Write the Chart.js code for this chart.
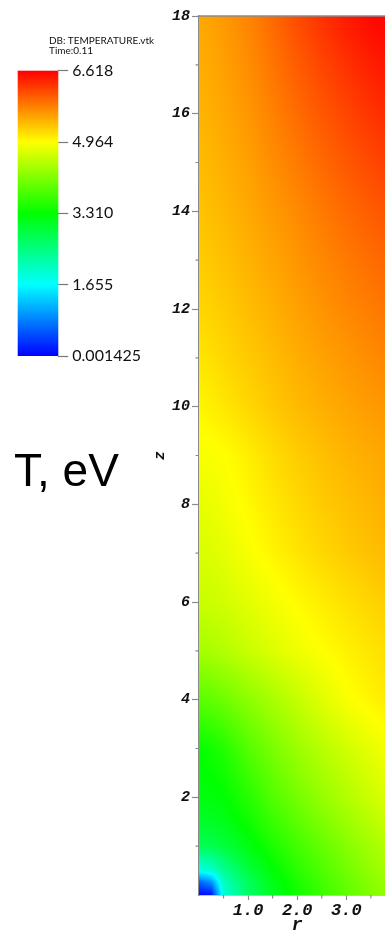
<!DOCTYPE html>
<html>
<head>
<meta charset="utf-8">
<title>T, eV</title>
<script src="https://cdn.jsdelivr.net/npm/chart.js@4.4.1/dist/chart.umd.min.js"></script>
<style>
  html, body { margin: 0; padding: 0; background: #fff; width: 385px; height: 931px; overflow: hidden; }
  #wrap { position: relative; width: 385px; height: 931px; overflow: hidden; }
  #field { position: absolute; left: 0; top: 0; }
  #bar { position: absolute; left: 0; top: 0; }
  .db { position: absolute; left: 49px; top: 35px; font: 10px Lato, sans-serif; line-height: 10px; color: #111; white-space: nowrap; }
  .unit { position: absolute; left: 14px; top: 447px; font: 46px "Liberation Sans", Arial, sans-serif; line-height: 46px; color: #000; white-space: nowrap; }
</style>
</head>
<body>
<div id="wrap">
  <canvas id="field" width="400" height="931"></canvas>
  <canvas id="bar" width="160" height="380"></canvas>
  <div class="db">DB: TEMPERATURE.vtk<br>Time:0.11</div>
  <div class="unit">T, eV</div>
</div>
<script>
// Mesh node coordinates (r across, z up)
const rNodes = [0, 0.25, 0.5, 1, 1.5, 2, 2.5, 3, 3.5, 4];
const zNodes = [0, 0.25, 0.5, 1, 1.5, 2, 3, 4, 5, 6, 7, 8, 9, 10, 11, 12, 13, 14, 15, 16, 17, 18];

// Nodal temperature, eV — one row per zNodes entry, one column per rNodes entry
const temperature = [
  [0.05, 0.10, 1.90, 2.65, 3.10, 3.42, 3.68, 3.92, 4.14, 4.33], // z = 0
  [0.60, 0.90, 2.05, 2.72, 3.16, 3.47, 3.73, 3.97, 4.19, 4.38], // z = 0.25
  [1.75, 1.95, 2.35, 2.90, 3.28, 3.57, 3.82, 4.05, 4.26, 4.44], // z = 0.5
  [2.75, 2.80, 2.92, 3.20, 3.48, 3.74, 3.96, 4.17, 4.37, 4.54], // z = 1
  [3.05, 3.08, 3.15, 3.40, 3.67, 3.91, 4.12, 4.32, 4.50, 4.66], // z = 1.5
  [3.22, 3.25, 3.30, 3.55, 3.84, 4.07, 4.28, 4.46, 4.63, 4.78], // z = 2
  [3.33, 3.42, 3.53, 3.85, 4.10, 4.32, 4.50, 4.66, 4.81, 4.94], // z = 3
  [3.89, 3.94, 4.02, 4.22, 4.40, 4.58, 4.76, 4.93, 5.03, 5.12], // z = 4
  [4.38, 4.42, 4.47, 4.61, 4.74, 4.86, 4.96, 5.05, 5.13, 5.20], // z = 5
  [4.60, 4.63, 4.67, 4.78, 4.89, 4.99, 5.08, 5.16, 5.24, 5.31], // z = 6
  [4.71, 4.74, 4.79, 4.92, 5.03, 5.13, 5.22, 5.30, 5.37, 5.43], // z = 7
  [4.80, 4.84, 4.89, 5.00, 5.11, 5.21, 5.30, 5.37, 5.44, 5.50], // z = 8
  [4.91, 4.93, 4.955, 5.07, 5.19, 5.29, 5.37, 5.45, 5.51, 5.57], // z = 9
  [5.03, 5.07, 5.12, 5.22, 5.32, 5.41, 5.48, 5.55, 5.61, 5.66], // z = 10
  [5.13, 5.17, 5.22, 5.31, 5.40, 5.49, 5.57, 5.64, 5.71, 5.77], // z = 11
  [5.22, 5.26, 5.30, 5.39, 5.48, 5.57, 5.66, 5.74, 5.81, 5.88], // z = 12
  [5.29, 5.33, 5.37, 5.46, 5.55, 5.65, 5.74, 5.83, 5.91, 5.98], // z = 13
  [5.35, 5.39, 5.43, 5.52, 5.62, 5.72, 5.83, 5.93, 6.02, 6.10], // z = 14
  [5.40, 5.44, 5.48, 5.58, 5.70, 5.82, 5.94, 6.05, 6.15, 6.23], // z = 15
  [5.45, 5.49, 5.53, 5.64, 5.78, 5.92, 6.05, 6.17, 6.28, 6.37], // z = 16
  [5.49, 5.53, 5.58, 5.70, 5.86, 6.02, 6.17, 6.30, 6.42, 6.50], // z = 17
  [5.53, 5.57, 5.62, 5.76, 5.94, 6.13, 6.30, 6.45, 6.57, 6.61]  // z = 18
];

// Axis ticks
const rTickValues = [0, 0.5, 1, 1.5, 2, 2.5, 3, 3.5, 4];
const rTickLabels = ['', '', '1.0', '', '2.0', '', '3.0', '', ''];
const zTickValues = [0, 1, 2, 3, 4, 5, 6, 7, 8, 9, 10, 11, 12, 13, 14, 15, 16, 17, 18];
const zTickLabels = ['', '', '2', '', '4', '', '6', '', '8', '', '10', '', '12', '', '14', '', '16', '', '18'];

// Colour bar range and labels
const tMin = 0.001425;
const tMax = 6.618;
const colorbarTicks = [0.001425, 1.655, 3.310, 4.964, 6.618];
const colorbarLabels = ['0.001425', '1.655', '3.310', '4.964', '6.618'];

// "hot" colour table: blue -> cyan -> green -> yellow -> red
const hotStops = [[0, 0, 255], [0, 255, 255], [0, 255, 0], [255, 255, 0], [255, 0, 0]];

function hotColor(v) {
  let t = (v - tMin) / (tMax - tMin);
  t = Math.max(0, Math.min(1, t)) * (hotStops.length - 1);
  const i = Math.min(hotStops.length - 2, Math.floor(t));
  const f = t - i;
  const a = hotStops[i], b = hotStops[i + 1];
  return [a[0] + (b[0] - a[0]) * f, a[1] + (b[1] - a[1]) * f, a[2] + (b[2] - a[2]) * f];
}

function locate(nodes, v) {
  if (v <= nodes[0]) return [0, 0];
  const n = nodes.length;
  if (v >= nodes[n - 1]) return [n - 2, 1];
  let i = 0;
  while (i < n - 2 && v > nodes[i + 1]) i++;
  return [i, (v - nodes[i]) / (nodes[i + 1] - nodes[i])];
}

const AXIS_GREY = '#8a8a8a';
const tickFontX = { family: '"Liberation Mono", monospace', size: 17, style: 'italic', weight: 'bold' };
const tickFontY = { family: '"Liberation Mono", monospace', size: 15, style: 'italic', weight: 'bold' };

// Shaded temperature field, placed through the chart's r/z scales
const fieldPlugin = {
  id: 'fieldShading',
  beforeDatasetsDraw(chart) {
    const { ctx, chartArea: a, scales: { x, y } } = chart;
    const x0 = Math.floor(a.left), x1 = Math.ceil(a.right);
    const y0 = Math.floor(a.top), y1 = Math.ceil(a.bottom);
    const w = x1 - x0, h = y1 - y0;
    const off = document.createElement('canvas');
    off.width = w; off.height = h;
    const octx = off.getContext('2d');
    const img = octx.createImageData(w, h);
    const cols = [];
    for (let px = 0; px < w; px++) cols.push(locate(rNodes, x.getValueForPixel(x0 + px + 0.5)));
    for (let py = 0; py < h; py++) {
      const [j, fz] = locate(zNodes, y.getValueForPixel(y0 + py + 0.5));
      const lo = temperature[j], hi = temperature[j + 1];
      for (let px = 0; px < w; px++) {
        const [i, fr] = cols[px];
        const a0 = lo[i] + (lo[i + 1] - lo[i]) * fr;
        const a1 = hi[i] + (hi[i + 1] - hi[i]) * fr;
        const c = hotColor(a0 + (a1 - a0) * fz);
        const k = (py * w + px) * 4;
        img.data[k] = c[0]; img.data[k + 1] = c[1]; img.data[k + 2] = c[2]; img.data[k + 3] = 255;
      }
    }
    octx.putImageData(img, 0, 0);
    ctx.save();
    ctx.beginPath();
    ctx.rect(a.left, a.top, a.right - a.left, a.bottom - a.top);
    ctx.clip();
    ctx.drawImage(off, x0, y0);
    ctx.restore();
  },
  afterDraw(chart) {
    const { ctx, chartArea: a, scales: { x, y } } = chart;
    ctx.save();
    ctx.strokeStyle = AXIS_GREY;
    ctx.lineWidth = 1.5;
    // frame line along the top
    ctx.beginPath();
    ctx.moveTo(a.left, a.top);
    ctx.lineTo(a.right, a.top);
    ctx.stroke();
    // short minor ticks
    ctx.lineWidth = 1.2;
    ctx.beginPath();
    rTickValues.forEach((v, i) => {
      if (rTickLabels[i] || v === x.min || v === x.max) return;
      const px = x.getPixelForValue(v);
      ctx.moveTo(px, a.bottom); ctx.lineTo(px, a.bottom + 3.5);
    });
    zTickValues.forEach((v, i) => {
      if (zTickLabels[i] || v === y.min || v === y.max) return;
      const py = y.getPixelForValue(v);
      ctx.moveTo(a.left, py); ctx.lineTo(a.left - 3.5, py);
    });
    ctx.stroke();
    ctx.restore();
  }
};

const nodePoints = [];
zNodes.forEach((z, j) => rNodes.forEach((r, i) => nodePoints.push({ x: r, y: z, t: temperature[j][i] })));

new Chart(document.getElementById('field'), {
  type: 'scatter',
  data: { datasets: [{ data: nodePoints, pointRadius: 0, pointHoverRadius: 0 }] },
  options: {
    responsive: false,
    animation: false,
    devicePixelRatio: 1,
    events: [],
    layout: { padding: { top: 16, right: 4.6, left: 0, bottom: 0 } },
    plugins: { legend: { display: false }, tooltip: { enabled: false } },
    scales: {
      x: {
        type: 'linear', min: 0, max: 4,
        afterBuildTicks: s => { s.ticks = rTickValues.map(v => ({ value: v })); },
        afterFit: s => { s.height = 36; },
        border: { display: true, color: AXIS_GREY, width: 1.5 },
        grid: {
          drawOnChartArea: false, drawTicks: true, tickLength: 5, tickWidth: 1.2,
          tickColor: c => (c.index !== undefined && rTickLabels[c.index]) ? AXIS_GREY : 'rgba(0,0,0,0)'
        },
        ticks: {
          autoSkip: false, maxRotation: 0, padding: 1, color: '#111', font: tickFontX,
          callback: (v, i) => rTickLabels[i]
        },
        title: { display: true, text: 'r', color: '#111', font: { family: '"Liberation Mono", monospace', size: 18, style: 'italic', weight: 'bold', lineHeight: 1 }, padding: { top: 0, bottom: -3 } }
      },
      y: {
        type: 'linear', min: 0, max: 18,
        afterBuildTicks: s => { s.ticks = zTickValues.map(v => ({ value: v })); },
        afterFit: s => { s.width = 199; },
        border: { display: true, color: AXIS_GREY, width: 1.5 },
        grid: {
          drawOnChartArea: false, drawTicks: true, tickLength: 7, tickWidth: 1.2,
          tickColor: c => (c.index !== undefined && zTickLabels[c.index]) ? AXIS_GREY : 'rgba(0,0,0,0)'
        },
        ticks: {
          autoSkip: false, padding: 2, color: '#111', font: tickFontY,
          callback: (v, i) => zTickLabels[i]
        },
        title: { display: true, text: 'z', color: '#111', font: { family: '"Liberation Mono", monospace', size: 15, style: 'italic', weight: 'bold' }, padding: { top: 151, bottom: 0 } }
      }
    }
  },
  plugins: [fieldPlugin]
});

// Colour bar: gradient filled along its own temperature scale
const colorbarPlugin = {
  id: 'colorbarFill',
  beforeDatasetsDraw(chart) {
    const { ctx, chartArea: a, scales: { y } } = chart;
    const g = ctx.createLinearGradient(0, y.getPixelForValue(tMin), 0, y.getPixelForValue(tMax));
    hotStops.forEach((c, i) => g.addColorStop(i / (hotStops.length - 1), `rgb(${c[0]},${c[1]},${c[2]})`));
    ctx.save();
    ctx.fillStyle = g;
    ctx.fillRect(a.left, a.top, a.right - a.left, a.bottom - a.top);
    ctx.restore();
  }
};

new Chart(document.getElementById('bar'), {
  type: 'scatter',
  data: { datasets: [{ data: [] }] },
  options: {
    responsive: false,
    animation: false,
    devicePixelRatio: 1,
    events: [],
    layout: { padding: { left: 17.7, top: 70.7, bottom: 24, right: 0 } },
    plugins: { legend: { display: false }, tooltip: { enabled: false } },
    scales: {
      x: { display: false, min: 0, max: 1 },
      y: {
        position: 'right', min: tMin, max: tMax,
        afterBuildTicks: s => { s.ticks = colorbarTicks.map(v => ({ value: v })); },
        afterFit: s => { s.width = 160 - 58.3; },
        border: { display: false },
        grid: { drawOnChartArea: false, drawTicks: true, tickLength: 10, tickWidth: 1.2, tickColor: '#7a7a7a' },
        ticks: { padding: 4, color: '#111', font: { family: 'Lato, sans-serif', size: 16 }, callback: (v, i) => colorbarLabels[i] }
      }
    }
  },
  plugins: [colorbarPlugin]
});
</script>
</body>
</html>
